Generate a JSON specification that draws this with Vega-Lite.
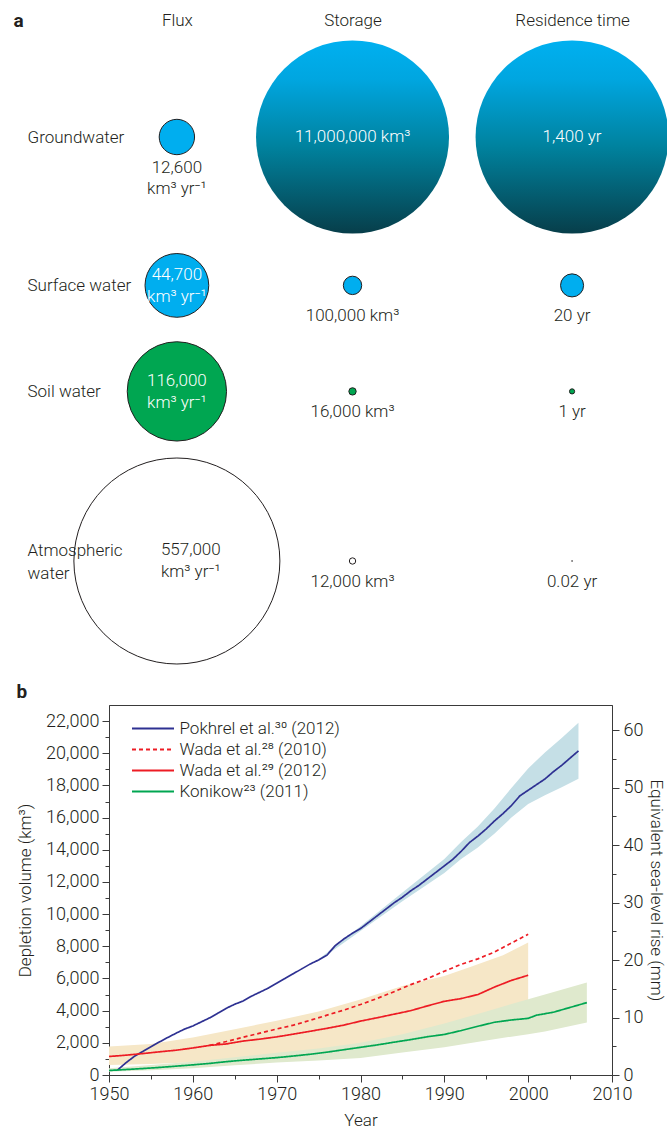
{
  "$schema": "https://vega.github.io/schema/vega-lite/v6.json",
  "background": "white",
  "padding": {"left": 13, "top": 11, "right": 0, "bottom": 2},
  "columns": 1,
  "spacing": 16,
  "resolve": {"legend": {"color": "independent", "strokeDash": "independent"}},
  "config": {
    "font": "Roboto",
    "view": {"stroke": null},
    "axis": {
      "labelFont": "Roboto", "titleFont": "Roboto",
      "labelFontWeight": 300, "titleFontWeight": 300,
      "labelColor": "#231f20", "titleColor": "#231f20",
      "labelFontSize": 17, "titleFontSize": 17,
      "domainColor": "#3a3a3a", "tickColor": "#3a3a3a",
      "domainWidth": 1, "tickWidth": 1, "grid": false
    }
  },
  "datasets": {
    "cycle": [
      {"compartment": "Groundwater", "measure": "Flux", "value": 12600},
      {"compartment": "Groundwater", "measure": "Storage", "value": 11000000},
      {"compartment": "Groundwater", "measure": "Residence time", "value": 1400},
      {"compartment": "Surface water", "measure": "Flux", "value": 44700},
      {"compartment": "Surface water", "measure": "Storage", "value": 100000},
      {"compartment": "Surface water", "measure": "Residence time", "value": 20},
      {"compartment": "Soil water", "measure": "Flux", "value": 116000},
      {"compartment": "Soil water", "measure": "Storage", "value": 16000},
      {"compartment": "Soil water", "measure": "Residence time", "value": 1},
      {"compartment": "Atmospheric water", "measure": "Flux", "value": 557000},
      {"compartment": "Atmospheric water", "measure": "Storage", "value": 12000},
      {"compartment": "Atmospheric water", "measure": "Residence time", "value": 0.02}
    ],
    "lines": [
      {"series": "Pokhrel et al.³⁰ (2012)", "year": 1951, "value": 300},
      {"series": "Pokhrel et al.³⁰ (2012)", "year": 1952, "value": 750},
      {"series": "Pokhrel et al.³⁰ (2012)", "year": 1953, "value": 1150},
      {"series": "Pokhrel et al.³⁰ (2012)", "year": 1954, "value": 1450},
      {"series": "Pokhrel et al.³⁰ (2012)", "year": 1955, "value": 1750},
      {"series": "Pokhrel et al.³⁰ (2012)", "year": 1956, "value": 2050},
      {"series": "Pokhrel et al.³⁰ (2012)", "year": 1957, "value": 2330},
      {"series": "Pokhrel et al.³⁰ (2012)", "year": 1958, "value": 2600},
      {"series": "Pokhrel et al.³⁰ (2012)", "year": 1959, "value": 2850},
      {"series": "Pokhrel et al.³⁰ (2012)", "year": 1960, "value": 3050},
      {"series": "Pokhrel et al.³⁰ (2012)", "year": 1961, "value": 3300},
      {"series": "Pokhrel et al.³⁰ (2012)", "year": 1962, "value": 3550},
      {"series": "Pokhrel et al.³⁰ (2012)", "year": 1963, "value": 3850},
      {"series": "Pokhrel et al.³⁰ (2012)", "year": 1964, "value": 4150},
      {"series": "Pokhrel et al.³⁰ (2012)", "year": 1965, "value": 4400},
      {"series": "Pokhrel et al.³⁰ (2012)", "year": 1966, "value": 4600},
      {"series": "Pokhrel et al.³⁰ (2012)", "year": 1967, "value": 4900},
      {"series": "Pokhrel et al.³⁰ (2012)", "year": 1968, "value": 5150},
      {"series": "Pokhrel et al.³⁰ (2012)", "year": 1969, "value": 5400},
      {"series": "Pokhrel et al.³⁰ (2012)", "year": 1970, "value": 5700},
      {"series": "Pokhrel et al.³⁰ (2012)", "year": 1971, "value": 6000},
      {"series": "Pokhrel et al.³⁰ (2012)", "year": 1972, "value": 6300},
      {"series": "Pokhrel et al.³⁰ (2012)", "year": 1973, "value": 6600},
      {"series": "Pokhrel et al.³⁰ (2012)", "year": 1974, "value": 6900},
      {"series": "Pokhrel et al.³⁰ (2012)", "year": 1975, "value": 7150},
      {"series": "Pokhrel et al.³⁰ (2012)", "year": 1976, "value": 7450},
      {"series": "Pokhrel et al.³⁰ (2012)", "year": 1977, "value": 8050},
      {"series": "Pokhrel et al.³⁰ (2012)", "year": 1978, "value": 8450},
      {"series": "Pokhrel et al.³⁰ (2012)", "year": 1979, "value": 8800},
      {"series": "Pokhrel et al.³⁰ (2012)", "year": 1980, "value": 9100},
      {"series": "Pokhrel et al.³⁰ (2012)", "year": 1981, "value": 9500},
      {"series": "Pokhrel et al.³⁰ (2012)", "year": 1982, "value": 9900},
      {"series": "Pokhrel et al.³⁰ (2012)", "year": 1983, "value": 10300},
      {"series": "Pokhrel et al.³⁰ (2012)", "year": 1984, "value": 10700},
      {"series": "Pokhrel et al.³⁰ (2012)", "year": 1985, "value": 11050},
      {"series": "Pokhrel et al.³⁰ (2012)", "year": 1986, "value": 11450},
      {"series": "Pokhrel et al.³⁰ (2012)", "year": 1987, "value": 11800},
      {"series": "Pokhrel et al.³⁰ (2012)", "year": 1988, "value": 12200},
      {"series": "Pokhrel et al.³⁰ (2012)", "year": 1989, "value": 12600},
      {"series": "Pokhrel et al.³⁰ (2012)", "year": 1990, "value": 13000},
      {"series": "Pokhrel et al.³⁰ (2012)", "year": 1991, "value": 13400},
      {"series": "Pokhrel et al.³⁰ (2012)", "year": 1992, "value": 13900},
      {"series": "Pokhrel et al.³⁰ (2012)", "year": 1993, "value": 14450},
      {"series": "Pokhrel et al.³⁰ (2012)", "year": 1994, "value": 14850},
      {"series": "Pokhrel et al.³⁰ (2012)", "year": 1995, "value": 15300},
      {"series": "Pokhrel et al.³⁰ (2012)", "year": 1996, "value": 15800},
      {"series": "Pokhrel et al.³⁰ (2012)", "year": 1997, "value": 16250},
      {"series": "Pokhrel et al.³⁰ (2012)", "year": 1998, "value": 16750},
      {"series": "Pokhrel et al.³⁰ (2012)", "year": 1999, "value": 17350},
      {"series": "Pokhrel et al.³⁰ (2012)", "year": 2000, "value": 17700},
      {"series": "Pokhrel et al.³⁰ (2012)", "year": 2001, "value": 18050},
      {"series": "Pokhrel et al.³⁰ (2012)", "year": 2002, "value": 18400},
      {"series": "Pokhrel et al.³⁰ (2012)", "year": 2003, "value": 18850},
      {"series": "Pokhrel et al.³⁰ (2012)", "year": 2004, "value": 19250},
      {"series": "Pokhrel et al.³⁰ (2012)", "year": 2005, "value": 19700},
      {"series": "Pokhrel et al.³⁰ (2012)", "year": 2006, "value": 20150},
      {"series": "Wada et al.²⁸ (2010)", "year": 1962, "value": 1840},
      {"series": "Wada et al.²⁸ (2010)", "year": 1964, "value": 2080},
      {"series": "Wada et al.²⁸ (2010)", "year": 1966, "value": 2350},
      {"series": "Wada et al.²⁸ (2010)", "year": 1968, "value": 2600},
      {"series": "Wada et al.²⁸ (2010)", "year": 1970, "value": 2860},
      {"series": "Wada et al.²⁸ (2010)", "year": 1972, "value": 3100},
      {"series": "Wada et al.²⁸ (2010)", "year": 1974, "value": 3400},
      {"series": "Wada et al.²⁸ (2010)", "year": 1976, "value": 3720},
      {"series": "Wada et al.²⁸ (2010)", "year": 1978, "value": 4030},
      {"series": "Wada et al.²⁸ (2010)", "year": 1980, "value": 4380},
      {"series": "Wada et al.²⁸ (2010)", "year": 1982, "value": 4760},
      {"series": "Wada et al.²⁸ (2010)", "year": 1984, "value": 5180},
      {"series": "Wada et al.²⁸ (2010)", "year": 1986, "value": 5620},
      {"series": "Wada et al.²⁸ (2010)", "year": 1988, "value": 6000},
      {"series": "Wada et al.²⁸ (2010)", "year": 1990, "value": 6450},
      {"series": "Wada et al.²⁸ (2010)", "year": 1992, "value": 6880},
      {"series": "Wada et al.²⁸ (2010)", "year": 1994, "value": 7220},
      {"series": "Wada et al.²⁸ (2010)", "year": 1996, "value": 7650},
      {"series": "Wada et al.²⁸ (2010)", "year": 1998, "value": 8200},
      {"series": "Wada et al.²⁸ (2010)", "year": 2000, "value": 8750},
      {"series": "Wada et al.²⁹ (2012)", "year": 1950, "value": 1150},
      {"series": "Wada et al.²⁹ (2012)", "year": 1952, "value": 1230},
      {"series": "Wada et al.²⁹ (2012)", "year": 1954, "value": 1330},
      {"series": "Wada et al.²⁹ (2012)", "year": 1956, "value": 1440},
      {"series": "Wada et al.²⁹ (2012)", "year": 1958, "value": 1540},
      {"series": "Wada et al.²⁹ (2012)", "year": 1960, "value": 1680},
      {"series": "Wada et al.²⁹ (2012)", "year": 1962, "value": 1840},
      {"series": "Wada et al.²⁹ (2012)", "year": 1964, "value": 1930},
      {"series": "Wada et al.²⁹ (2012)", "year": 1966, "value": 2110},
      {"series": "Wada et al.²⁹ (2012)", "year": 1968, "value": 2230},
      {"series": "Wada et al.²⁹ (2012)", "year": 1970, "value": 2370},
      {"series": "Wada et al.²⁹ (2012)", "year": 1972, "value": 2540},
      {"series": "Wada et al.²⁹ (2012)", "year": 1974, "value": 2720},
      {"series": "Wada et al.²⁹ (2012)", "year": 1976, "value": 2900},
      {"series": "Wada et al.²⁹ (2012)", "year": 1978, "value": 3100},
      {"series": "Wada et al.²⁹ (2012)", "year": 1980, "value": 3350},
      {"series": "Wada et al.²⁹ (2012)", "year": 1982, "value": 3560},
      {"series": "Wada et al.²⁹ (2012)", "year": 1984, "value": 3780},
      {"series": "Wada et al.²⁹ (2012)", "year": 1986, "value": 4000},
      {"series": "Wada et al.²⁹ (2012)", "year": 1988, "value": 4300},
      {"series": "Wada et al.²⁹ (2012)", "year": 1990, "value": 4580},
      {"series": "Wada et al.²⁹ (2012)", "year": 1992, "value": 4750},
      {"series": "Wada et al.²⁹ (2012)", "year": 1994, "value": 5000},
      {"series": "Wada et al.²⁹ (2012)", "year": 1996, "value": 5470},
      {"series": "Wada et al.²⁹ (2012)", "year": 1998, "value": 5880},
      {"series": "Wada et al.²⁹ (2012)", "year": 2000, "value": 6200},
      {"series": "Konikow²³ (2011)", "year": 1950, "value": 280},
      {"series": "Konikow²³ (2011)", "year": 1952, "value": 340},
      {"series": "Konikow²³ (2011)", "year": 1954, "value": 400},
      {"series": "Konikow²³ (2011)", "year": 1956, "value": 470},
      {"series": "Konikow²³ (2011)", "year": 1958, "value": 550},
      {"series": "Konikow²³ (2011)", "year": 1960, "value": 630},
      {"series": "Konikow²³ (2011)", "year": 1962, "value": 720},
      {"series": "Konikow²³ (2011)", "year": 1964, "value": 830},
      {"series": "Konikow²³ (2011)", "year": 1966, "value": 920},
      {"series": "Konikow²³ (2011)", "year": 1968, "value": 1000},
      {"series": "Konikow²³ (2011)", "year": 1970, "value": 1080},
      {"series": "Konikow²³ (2011)", "year": 1972, "value": 1180},
      {"series": "Konikow²³ (2011)", "year": 1974, "value": 1290},
      {"series": "Konikow²³ (2011)", "year": 1976, "value": 1420},
      {"series": "Konikow²³ (2011)", "year": 1978, "value": 1570},
      {"series": "Konikow²³ (2011)", "year": 1980, "value": 1720},
      {"series": "Konikow²³ (2011)", "year": 1982, "value": 1870},
      {"series": "Konikow²³ (2011)", "year": 1984, "value": 2040},
      {"series": "Konikow²³ (2011)", "year": 1986, "value": 2200},
      {"series": "Konikow²³ (2011)", "year": 1988, "value": 2380},
      {"series": "Konikow²³ (2011)", "year": 1990, "value": 2520},
      {"series": "Konikow²³ (2011)", "year": 1992, "value": 2760},
      {"series": "Konikow²³ (2011)", "year": 1994, "value": 3030},
      {"series": "Konikow²³ (2011)", "year": 1996, "value": 3280},
      {"series": "Konikow²³ (2011)", "year": 1998, "value": 3420},
      {"series": "Konikow²³ (2011)", "year": 2000, "value": 3520},
      {"series": "Konikow²³ (2011)", "year": 2001, "value": 3720},
      {"series": "Konikow²³ (2011)", "year": 2003, "value": 3900},
      {"series": "Konikow²³ (2011)", "year": 2005, "value": 4200},
      {"series": "Konikow²³ (2011)", "year": 2007, "value": 4500}
    ],
    "bands": [
      {"band": "Pokhrel", "year": 1975, "lo": 7100, "hi": 7200},
      {"band": "Pokhrel", "year": 1980, "lo": 8950, "hi": 9250},
      {"band": "Pokhrel", "year": 1985, "lo": 10800, "hi": 11350},
      {"band": "Pokhrel", "year": 1990, "lo": 12550, "hi": 13420},
      {"band": "Pokhrel", "year": 1992, "lo": 13430, "hi": 14490},
      {"band": "Pokhrel", "year": 1994, "lo": 14140, "hi": 15440},
      {"band": "Pokhrel", "year": 1996, "lo": 15010, "hi": 16580},
      {"band": "Pokhrel", "year": 1998, "lo": 16000, "hi": 17840},
      {"band": "Pokhrel", "year": 2000, "lo": 16840, "hi": 19060},
      {"band": "Pokhrel", "year": 2002, "lo": 17390, "hi": 20050},
      {"band": "Pokhrel", "year": 2004, "lo": 17890, "hi": 20950},
      {"band": "Pokhrel", "year": 2006, "lo": 18420, "hi": 21900},
      {"band": "Wada", "year": 1950, "lo": 620, "hi": 1770},
      {"band": "Wada", "year": 1955, "lo": 680, "hi": 1920},
      {"band": "Wada", "year": 1960, "lo": 790, "hi": 2330},
      {"band": "Wada", "year": 1965, "lo": 1000, "hi": 2850},
      {"band": "Wada", "year": 1970, "lo": 1290, "hi": 3370},
      {"band": "Wada", "year": 1975, "lo": 1600, "hi": 3950},
      {"band": "Wada", "year": 1980, "lo": 1960, "hi": 4700},
      {"band": "Wada", "year": 1985, "lo": 2430, "hi": 5530},
      {"band": "Wada", "year": 1990, "lo": 3100, "hi": 6160},
      {"band": "Wada", "year": 1993, "lo": 3450, "hi": 6700},
      {"band": "Wada", "year": 1997, "lo": 3950, "hi": 7450},
      {"band": "Wada", "year": 2000, "lo": 4500, "hi": 8230},
      {"band": "Konikow", "year": 1950, "lo": 200, "hi": 420},
      {"band": "Konikow", "year": 1955, "lo": 300, "hi": 620},
      {"band": "Konikow", "year": 1960, "lo": 420, "hi": 830},
      {"band": "Konikow", "year": 1965, "lo": 600, "hi": 1100},
      {"band": "Konikow", "year": 1970, "lo": 780, "hi": 1380},
      {"band": "Konikow", "year": 1975, "lo": 900, "hi": 1650},
      {"band": "Konikow", "year": 1980, "lo": 1060, "hi": 2000},
      {"band": "Konikow", "year": 1985, "lo": 1400, "hi": 2540},
      {"band": "Konikow", "year": 1990, "lo": 1720, "hi": 3200},
      {"band": "Konikow", "year": 1995, "lo": 2150, "hi": 3950},
      {"band": "Konikow", "year": 2000, "lo": 2540, "hi": 4710},
      {"band": "Konikow", "year": 2002, "lo": 2700, "hi": 5000},
      {"band": "Konikow", "year": 2007, "lo": 3270, "hi": 5750}
    ]
  },
  "concat": [
    {
      "width": 483,
      "height": 424,
      "view": {"stroke": null},
      "data": {"name": "cycle"},
      "transform": [
        {"calculate": "datum.measure === 'Flux' ? format(datum.value, ',') + '\\n' + 'km³ yr⁻¹' : format(datum.value, ',') + (datum.measure === 'Storage' ? ' km³' : ' yr')", "as": "label"}
      ],
      "encoding": {
        "x": {
          "field": "measure", "type": "nominal",
          "scale": {"type": "point", "domain": ["Flux", "_a", "_b", "_c", "Storage", "_d", "_e", "_f", "_g", "Residence time"], "padding": 1, "align": 0.773},
          "axis": {"orient": "top", "domain": false, "ticks": false, "tickSize": 0, "labelPadding": 117, "labelBaseline": "middle", "labelAngle": 0, "labelOverlap": false, "labelExpr": "indexof(datum.label, '_') === 0 ? '' : datum.label", "title": null, "zindex": 1}
        },
        "y": {
          "field": "compartment", "type": "nominal",
          "scale": {"type": "point", "domain": ["Groundwater", "_1", "_2", "_3", "_4", "_5", "_6", "Surface water", "_7", "_8", "_9", "_10", "Soil water", "_11", "_12", "_13", "_14", "_15", "_16", "_17", "Atmospheric water"], "padding": 0},
          "axis": {"orient": "left", "domain": false, "ticks": false, "tickSize": 0, "labelAlign": "left", "labelBaseline": "middle", "labelPadding": 82, "labelOverlap": false, "labelLineHeight": 23, "labelLimit": 300, "zindex": 1,
            "labelOffset": {"condition": {"test": "datum.value === 'Atmospheric water'", "value": -11}, "value": 0},
            "labelExpr": "datum.label === 'Atmospheric water' ? ['Atmospheric', 'water'] : (indexof(datum.label, '_') === 0 ? '' : datum.label)",
            "title": "a", "titleAngle": 0, "titleX": -96, "titleY": -117, "titleAlign": "left", "titleBaseline": "middle", "titleFontWeight": "bold", "titleFontSize": 19, "titleColor": "#231f20"}
        }
      },
      "layer": [
        {
          "transform": [{"filter": "datum.measure === 'Flux'"}],
          "mark": {"type": "circle", "opacity": 1, "stroke": "#231f20", "strokeWidth": 1},
          "encoding": {
            "fill": {"field": "compartment", "type": "nominal", "scale": {"domain": ["Groundwater", "Surface water", "Soil water", "Atmospheric water"], "range": ["#00aeef", "#00aeef", "#00a651", "#ffffff"]}, "legend": null},
            "size": {"field": "value", "type": "quantitative", "scale": {"type": "pow", "exponent": 0.93, "domain": [0, 557000], "range": [0, 42436]}, "legend": null}
          }
        },
        {
          "transform": [{"filter": "datum.measure === 'Storage'"}],
          "mark": {"type": "circle", "opacity": 1, "strokeWidth": 1},
          "encoding": {
            "fill": {"condition": {"test": "datum.compartment === 'Groundwater'", "value": {"gradient": "linear", "x1": 0, "y1": 0, "x2": 0, "y2": 1, "stops": [{"offset": 0, "color": "#00b0f0"}, {"offset": 0.2, "color": "#00a6e0"}, {"offset": 0.55, "color": "#00829e"}, {"offset": 1, "color": "#073e4a"}]}}, "field": "compartment", "type": "nominal", "scale": {"domain": ["Groundwater", "Surface water", "Soil water", "Atmospheric water"], "range": ["#00aeef", "#00aeef", "#00a651", "#ffffff"]}, "legend": null},
            "stroke": {"condition": {"test": "datum.compartment === 'Groundwater'", "value": "transparent"}, "value": "#231f20"},
            "size": {"field": "value", "type": "quantitative", "scale": {"domain": [0, 11000000], "range": [0, 37249]}, "legend": null}
          }
        },
        {
          "transform": [{"filter": "datum.measure === 'Residence time'"}],
          "mark": {"type": "circle", "opacity": 1, "strokeWidth": 1},
          "encoding": {
            "fill": {"condition": {"test": "datum.compartment === 'Groundwater'", "value": {"gradient": "linear", "x1": 0, "y1": 0, "x2": 0, "y2": 1, "stops": [{"offset": 0, "color": "#00b0f0"}, {"offset": 0.2, "color": "#00a6e0"}, {"offset": 0.55, "color": "#00829e"}, {"offset": 1, "color": "#073e4a"}]}}, "field": "compartment", "type": "nominal", "scale": {"domain": ["Groundwater", "Surface water", "Soil water", "Atmospheric water"], "range": ["#00aeef", "#00aeef", "#00a651", "#ffffff"]}, "legend": null},
            "stroke": {"condition": {"test": "datum.compartment === 'Groundwater'", "value": "transparent"}, "value": "#231f20"},
            "size": {"field": "value", "type": "quantitative", "scale": {"domain": [0, 1400], "range": [0, 37249]}, "legend": null}
          }
        },
        {
          "transform": [{"filter": "datum.compartment === 'Groundwater' && datum.measure !== 'Flux'"}],
          "mark": {"type": "text", "fill": "#ffffff", "fontSize": 17, "fontWeight": 300, "align": "center", "baseline": "middle"},
          "encoding": {"text": {"field": "label", "type": "nominal"}}
        },
        {
          "transform": [{"filter": "datum.measure === 'Flux' && (datum.compartment === 'Surface water' || datum.compartment === 'Soil water')"}],
          "mark": {"type": "text", "fill": "#ffffff", "fontSize": 17, "fontWeight": 300, "align": "center", "baseline": "middle", "dy": -10, "lineBreak": "\n", "lineHeight": 21.5},
          "encoding": {"text": {"field": "label", "type": "nominal"}}
        },
        {
          "transform": [{"filter": "datum.compartment === 'Atmospheric water' && datum.measure === 'Flux'"}],
          "mark": {"type": "text", "fill": "#231f20", "fontSize": 17, "fontWeight": 300, "align": "left", "baseline": "middle", "dx": -16, "dy": -11, "lineBreak": "\n", "lineHeight": 22},
          "encoding": {"text": {"field": "label", "type": "nominal"}}
        },
        {
          "transform": [{"filter": "(datum.compartment === 'Groundwater' && datum.measure === 'Flux') || (datum.compartment === 'Surface water' && datum.measure !== 'Flux')"}],
          "mark": {"type": "text", "fill": "#231f20", "fontSize": 17, "fontWeight": 300, "align": "center", "baseline": "top", "dy": 23, "lineBreak": "\n", "lineHeight": 21},
          "encoding": {"text": {"field": "label", "type": "nominal"}}
        },
        {
          "transform": [{"filter": "(datum.compartment === 'Soil water' || datum.compartment === 'Atmospheric water') && datum.measure !== 'Flux'"}],
          "mark": {"type": "text", "fill": "#231f20", "fontSize": 17, "fontWeight": 300, "align": "center", "baseline": "middle", "dy": 21},
          "encoding": {"text": {"field": "label", "type": "nominal"}}
        }
      ],
      "resolve": {"scale": {"size": "independent"}}
    },
    {
      "width": 503,
      "height": 370,
      "view": {"stroke": "#3a3a3a", "strokeWidth": 1},
      "title": {"text": "b", "anchor": "start", "frame": "bounds", "fontSize": 19, "fontWeight": "bold", "font": "Roboto", "color": "#231f20", "offset": 3},
      "encoding": {
        "x": {"field": "year", "type": "quantitative", "scale": {"domain": [1950, 2010], "nice": false},
          "axis": {"values": [1950, 1955, 1960, 1965, 1970, 1975, 1980, 1985, 1990, 1995, 2000, 2005, 2010], "labelExpr": "datum.value % 10 === 0 ? format(datum.value, 'd') : ''", "tickSize": {"condition": {"test": "datum.value % 10 !== 0", "value": 4}, "value": 7}, "labelFontSize": 18, "labelPadding": 3, "labelOverlap": false, "labelFlush": false, "title": "Year", "titlePadding": 9}}
      },
      "layer": [
        {
          "data": {"name": "bands"},
          "transform": [{"filter": "datum.band === 'Pokhrel'"}],
          "mark": {"type": "area", "fill": "#c5dfe6", "opacity": 1},
          "encoding": {
            "y": {"field": "lo", "type": "quantitative", "scale": {"domain": [0, 23000], "nice": false},
              "axis": {"orient": "left", "values": [0, 1000, 2000, 3000, 4000, 5000, 6000, 7000, 8000, 9000, 10000, 11000, 12000, 13000, 14000, 15000, 16000, 17000, 18000, 19000, 20000, 21000, 22000], "labelExpr": "datum.value % 2000 === 0 ? format(datum.value, ',') : ''", "tickSize": {"condition": {"test": "datum.value % 2000 !== 0", "value": 4}, "value": 7}, "labelFontSize": 18, "labelPadding": 3, "labelOverlap": false, "title": "Depletion volume (km³)", "titlePadding": 11}},
            "y2": {"field": "hi"}
          }
        },
        {
          "data": {"name": "bands"},
          "transform": [{"filter": "datum.band === 'Wada'"}],
          "mark": {"type": "area", "fill": "#f6e7c7", "opacity": 1},
          "encoding": {
            "y": {"field": "lo", "type": "quantitative", "scale": {"domain": [0, 23000], "nice": false}, "axis": null},
            "y2": {"field": "hi"}
          }
        },
        {
          "data": {"name": "bands"},
          "transform": [{"filter": "datum.band === 'Konikow'"}],
          "mark": {"type": "area", "fill": "#dfe9cd", "opacity": 1},
          "encoding": {
            "y": {"field": "lo", "type": "quantitative", "scale": {"domain": [0, 23000], "nice": false}, "axis": null},
            "y2": {"field": "hi"}
          }
        },
        {
          "data": {"name": "lines"},
          "mark": {"type": "line", "strokeWidth": 1.7},
          "encoding": {
            "y": {"field": "value", "type": "quantitative", "scale": {"domain": [0, 23000], "nice": false}, "axis": null},
            "color": {"field": "series", "type": "nominal",
              "scale": {"domain": ["Pokhrel et al.³⁰ (2012)", "Wada et al.²⁸ (2010)", "Wada et al.²⁹ (2012)", "Konikow²³ (2011)"], "range": ["#2e3192", "#ed1c24", "#ed1c24", "#00a651"]},
              "legend": {"orient": "none", "legendX": 32.5, "legendY": 12, "title": null, "symbolType": "M-2,0H2", "symbolSize": 441, "symbolStrokeWidth": 2, "labelFont": "Roboto", "labelFontSize": 17, "labelFontWeight": 300, "labelColor": "#231f20", "labelOffset": 15, "rowPadding": 1, "padding": 0, "labelLimit": 300}},
            "strokeDash": {"field": "series", "type": "nominal",
              "scale": {"domain": ["Pokhrel et al.³⁰ (2012)", "Wada et al.²⁸ (2010)", "Wada et al.²⁹ (2012)", "Konikow²³ (2011)"], "range": [[1, 0], [4, 3], [1, 0], [1, 0]]},
              "legend": {"orient": "none", "legendX": 32.5, "legendY": 12, "title": null, "symbolType": "M-2,0H2", "symbolSize": 441, "symbolStrokeWidth": 2, "labelFont": "Roboto", "labelFontSize": 17, "labelFontWeight": 300, "labelColor": "#231f20", "labelOffset": 15, "rowPadding": 1, "padding": 0, "labelLimit": 300}}
          }
        },
        {
          "data": {"values": [{"year": 1980, "mm": 0}]},
          "mark": {"type": "point", "opacity": 0},
          "encoding": {
            "y": {"field": "mm", "type": "quantitative", "scale": {"domain": [0, 64.4], "nice": false},
              "axis": {"orient": "right", "values": [0, 5, 10, 15, 20, 25, 30, 35, 40, 45, 50, 55, 60], "labelExpr": "datum.value % 10 === 0 ? format(datum.value, 'd') : ''", "tickSize": {"condition": {"test": "datum.value % 10 !== 0", "value": 4}, "value": 7}, "labelFontSize": 18, "labelPadding": 4, "labelOverlap": false, "title": "Equivalent sea-level rise (mm)", "titlePadding": 4}}
          }
        }
      ],
      "resolve": {"scale": {"y": "independent"}}
    }
  ]
}
